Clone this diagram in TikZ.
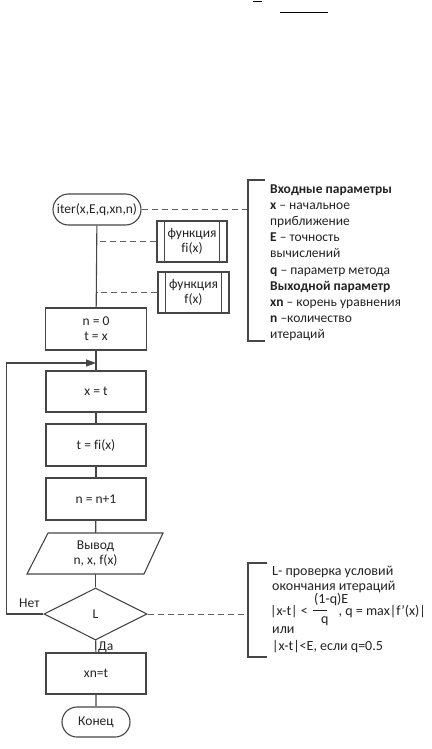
\documentclass[tikz,border=0pt]{standalone}
\usepackage{fontspec}
\setmainfont{Carlito}[Ligatures=NoCommon]
\usetikzlibrary{shapes.geometric,shapes.misc,arrows.meta}
\definecolor{lc}{RGB}{70,70,70}
\definecolor{tc}{RGB}{35,35,35}
\begin{document}
\begin{tikzpicture}[x=1pt,y=-1pt,
  every node/.style={text=tc, font=\fontsize{13.5}{15}\selectfont},
  ln/.style={draw=lc, line width=1.1pt},
  dsh/.style={draw=lc!85, line width=1pt, dash pattern=on 6pt off 4pt},
  proc/.style={ln, rectangle, minimum width=100pt, minimum height=41pt, inner sep=1pt, align=center},
  term/.style={ln, rounded rectangle, inner sep=1pt},
  pre/.style={ln, rectangle, minimum width=70pt, minimum height=41pt, inner sep=1pt, align=center},
  txt/.style={anchor=base west, inner sep=0pt},
  ltxt/.style={txt, font=\fontsize{14}{15}\selectfont},
]
\useasboundingbox (0,0) rectangle (431,749);
\fill[white] (0,0) rectangle (431,749);

% stray marks at the top
\draw[black, line width=0.8pt] (253,1.5) -- (262,1.5);
\draw[black, line width=0.8pt] (280,12) -- (328,12);

% nodes
\node[term, minimum width=90pt, minimum height=31pt] (start) at (97,209.5) {iter(x,E,q,xn,n)};
\node[pre] (fi) at (192,241.5) {функция\\fi(x)};
\node[pre, minimum width=71pt] (f) at (193.5,292.5) {функция\\f(x)};
\foreach \n in {fi,f} {
  \draw[ln] ([xshift=8pt]\n.north west) -- ([xshift=8pt]\n.south west);
  \draw[ln] ([xshift=-8pt]\n.north east) -- ([xshift=-8pt]\n.south east);
}
\node[proc, minimum width=101pt, minimum height=42pt] (n0) at (96,329) {n = 0\\t = x};
\node[proc] (xt) at (96,391.5) {x = t};
\node[proc, minimum height=42pt] (tf) at (96,445) {t = fi(x)};
\node[proc, minimum height=42pt] (nn) at (96,499) {n = n+1};
\node[align=center, minimum width=100pt, minimum height=41pt, inner sep=0pt] (out) at (95.5,553.5) {Вывод\\n, x, f(x)};
\draw[ln] (48,533) -- (163,533) -- (144,574) -- (27,574) -- cycle;
\node[ln, diamond, minimum width=103pt, minimum height=52pt, inner sep=0pt] (dia) at (95.5,614) {L};
\node[proc] (xn) at (96,673.5) {xn=t};
\node[term, minimum width=70pt, minimum height=30pt] (end) at (96,722) {Конец};

% connectors
\draw[ln] (start) -- (n0);
\draw[ln] (n0) -- (xt);
\draw[ln] (xt) -- (tf);
\draw[ln] (tf) -- (nn);
\draw[ln] (nn) -- (out);
\draw[ln] (out) -- (dia);
\draw[ln] (dia) -- (xn);
\draw[ln] (xn) -- (end);
\coordinate (lp) at (96,363);
\draw[ln,-{Triangle[length=10pt,width=7pt]}] (dia.west) -- ++(-37,0) |- (lp);
\node[txt] (no) at (19,607) {Нет};
\node[txt] (yes) at (98,650) {Да};

% comments
\coordinate (b1) at (248,209.5);
\draw[dsh] (start.east) -- (b1);
\draw[ln] (265,180) -- (248,180) -- (248,341) -- (265,341);
\draw[dsh] (fi.west) -- (fi.west -| start.south);
\draw[dsh] (f.west) -- (f.west -| start.south);
\coordinate (b2) at (248,614);
\draw[dsh] (dia.east) -- (b2);
\draw[ln] (267,563) -- (248,563) -- (248,657) -- (267,657);

\node[txt] (p1) at (270,193) {\textbf{Входные параметры}};
\node[txt] (p2) at (270,209.2) {\textbf{x} – начальное};
\node[txt] (p3) at (270,225.4) {приближение};
\node[txt] (p4) at (270,241.6) {\textbf{E} – точность};
\node[txt] (p5) at (270,257.8) {вычислений};
\node[txt] (p6) at (270,274) {\textbf{q} – параметр метода};
\node[txt] (p7) at (270,290.2) {\textbf{Выходной параметр}};
\node[txt] (p8) at (270,306.4) {\textbf{xn} – корень уравнения};
\node[txt] (p9) at (270,322.6) {\textbf{n} –количество};
\node[txt] (p10) at (270,338.8) {итераций};

\node[ltxt] (l1) at (272,575) {L- проверка условий};
\node[ltxt] (l2) at (272,590) {окончания итераций};
\node[ltxt, anchor=base east] (l3) at (308,615) {|x-t| <};
\node[ltxt] (l3n) at (314,603) {(1-q)E};
\draw[tc, line width=0.8pt] (313,610) -- (327,610);
\node[ltxt] (l3d) at (321,623) {q};
\node[ltxt, anchor=base east] (l3r) at (426,615) {, q = max|f’(x)|};
\node[ltxt] (l4) at (272,633) {или};
\node[ltxt] (l5) at (272,650) {|x-t|<E, если q=0.5};
\end{tikzpicture}
\end{document}
